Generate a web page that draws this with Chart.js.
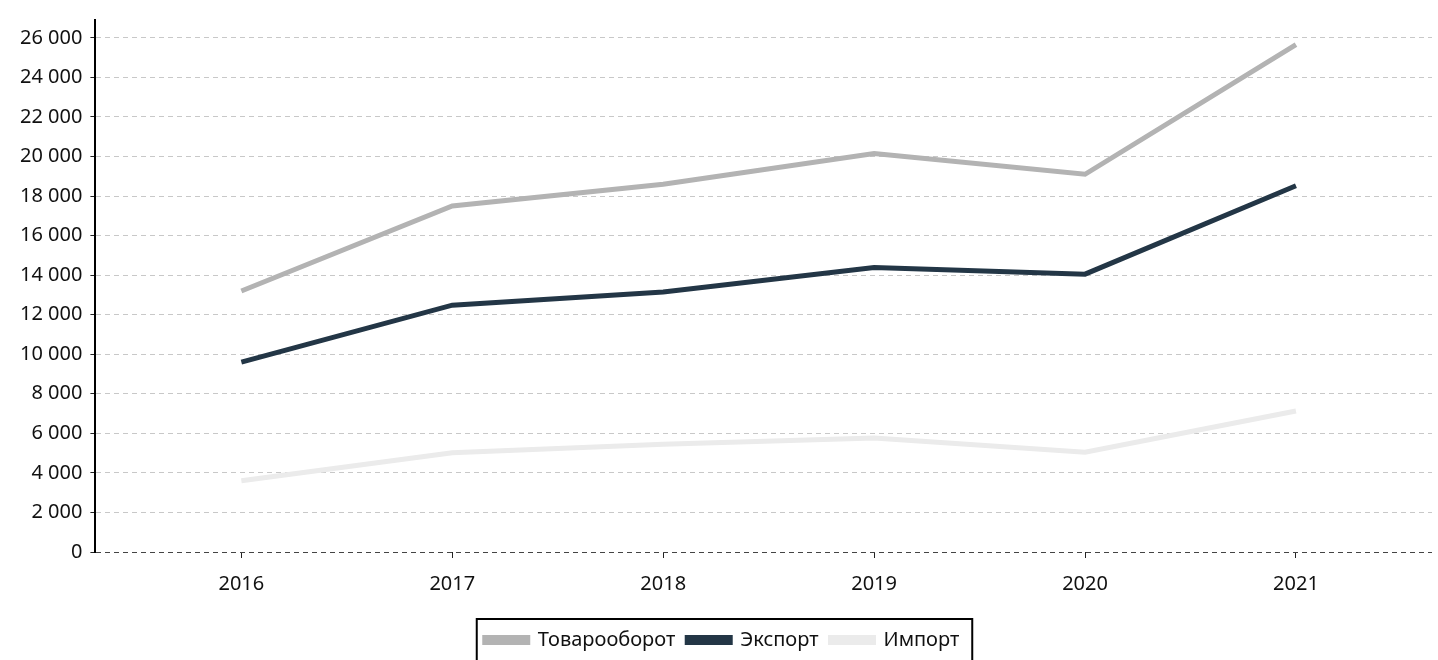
<!DOCTYPE html>
<html>
<head>
<meta charset="utf-8">
<script src="https://cdn.jsdelivr.net/npm/chart.js@4"></script>
<style>
  html, body { margin: 0; padding: 0; background: #fff; }
  #wrap { width: 1438px; height: 660px; }
</style>
</head>
<body>
<div id="wrap"><canvas id="chart"></canvas></div>
<script>
// Years and series values
const years = [2016, 2017, 2018, 2019, 2020, 2021];
const turnover = [13200, 17500, 18600, 20150, 19100, 25650];
const exportVals = [9600, 12480, 13150, 14380, 14050, 18520];
const importVals = [3600, 5020, 5450, 5770, 5050, 7130];
const yTicks = [0, 2000, 4000, 6000, 8000, 10000, 12000, 14000, 16000, 18000, 20000, 22000, 24000, 26000];

const toPoints = vals => vals.map((v, i) => ({ x: years[i], y: v }));
const FONT = 'Noto Sans';

// frame around the legend items
const legendBox = {
  id: 'legendBox',
  afterDraw(chart) {
    const l = chart.legend;
    if (!l || !l.legendHitBoxes || !l.legendHitBoxes.length) return;
    const boxes = l.legendHitBoxes;
    const left = boxes[0].left - 8;
    const last = boxes[boxes.length - 1];
    const right = last.left + last.width + 13;
    const ctx = chart.ctx;
    ctx.save();
    ctx.strokeStyle = '#000';
    ctx.lineWidth = 2;
    ctx.strokeRect(left, l.top + 1, right - left, l.height + 20);
    ctx.restore();
  }
};

new Chart(document.getElementById('chart'), {
  type: 'line',
  data: {
    datasets: [
      { label: 'Товарооборот', data: toPoints(turnover), borderColor: '#b3b3b3', backgroundColor: '#b3b3b3' },
      { label: 'Экспорт', data: toPoints(exportVals), borderColor: '#233646', backgroundColor: '#233646' },
      { label: 'Импорт', data: toPoints(importVals), borderColor: '#ebebeb', backgroundColor: '#ebebeb' }
    ]
  },
  options: {
    responsive: true,
    maintainAspectRatio: false,
    animation: false,
    layout: { padding: { left: 12, right: 6, top: 11, bottom: 0 } },
    elements: {
      line: { borderWidth: 5, tension: 0, borderCapStyle: 'butt' },
      point: { radius: 0, hoverRadius: 0 }
    },
    plugins: {
      legend: {
        position: 'bottom',
        labels: {
          font: { family: FONT, size: 20 },
          color: '#111',
          boxWidth: 43,
          boxHeight: 5,
          padding: 12
        }
      },
      tooltip: { enabled: false }
    },
    scales: {
      x: {
        type: 'linear',
        min: 2015.308,
        max: 2021.645,
        afterBuildTicks: axis => { axis.ticks = years.map(v => ({ value: v })); },
        afterFit: axis => { axis.height += 8; },
        ticks: {
          callback: v => String(v),
          font: { family: FONT, size: 20 },
          color: '#111',
          padding: 14,
          maxRotation: 0
        },
        grid: { drawOnChartArea: false, drawTicks: true, tickLength: 6, tickColor: '#222', tickWidth: 1 },
        border: { display: false }
      },
      y: {
        min: 0,
        max: 26900,
        afterBuildTicks: axis => { axis.ticks = yTicks.map(v => ({ value: v })); },
        ticks: {
          callback: v => v.toLocaleString('ru-RU').replace(/\s/g, ' '),
          font: { family: FONT, size: 20 },
          color: '#111',
          padding: 8
        },
        grid: {
          color: ctx => (ctx.tick && ctx.tick.value === 0 ? '#444' : '#c8c8c8'),
          lineWidth: 1,
          tickColor: '#222',
          tickLength: 5,
          tickBorderDash: []
        },
        border: { display: true, color: '#000', width: 2, dash: [5, 4] }
      }
    }
  },
  plugins: [legendBox]
});
</script>
</body>
</html>
